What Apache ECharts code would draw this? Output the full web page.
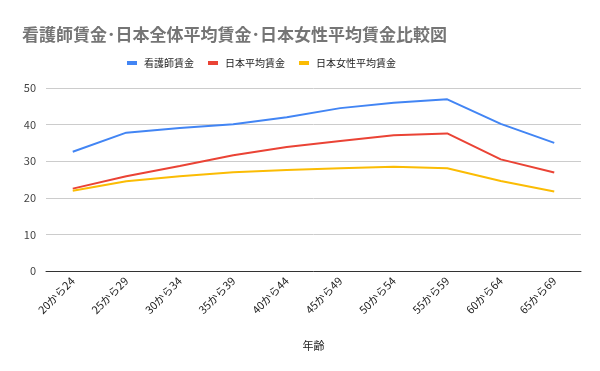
<!DOCTYPE html>
<html><head><meta charset="utf-8">
<script src="https://cdn.jsdelivr.net/npm/echarts@6/dist/echarts.min.js"></script>
<style>html,body{margin:0;padding:0;background:#fff}#c{width:600px;height:371px}</style>
</head><body><div id="c"></div>
<script>
const categories = ["20から24","25から29","30から34","35から39","40から44","45から49","50から54","55から59","60から64","65から69"];
const nurse = [32.6, 37.8, 39.1, 40.1, 42.0, 44.5, 46.0, 46.9, 40.2, 35.0];
const national = [22.5, 25.9, 28.7, 31.6, 33.9, 35.5, 37.1, 37.6, 30.5, 26.9];
const women = [21.9, 24.5, 25.9, 27.0, 27.6, 28.1, 28.5, 28.1, 24.6, 21.7];
const seriesNames = ["看護師賃金","日本平均賃金","日本女性平均賃金"];
const font = '"Noto Sans CJK JP", Roboto, sans-serif';
const chart = echarts.init(document.getElementById('c'));
chart.setOption({
  animation:false,
  title:{text:'看護師賃金･日本全体平均賃金･日本女性平均賃金比較図',left:17,top:21,
    textStyle:{fontSize:17,fontWeight:'bold',color:'#757575',fontFamily:font}},
  legend:{top:53,left:122,itemWidth:10,itemHeight:4,itemGap:14,icon:'rect',
    textStyle:{fontSize:10,color:'#222',fontFamily:font,padding:[0,0,0,2]},data:seriesNames},
  grid:{left:46,right:19,top:88,bottom:100},
  xAxis:{type:'category',data:categories,boundaryGap:true,
    name:'年齢',nameLocation:'middle',nameGap:69,
    nameTextStyle:{fontSize:11,color:'#222',fontFamily:font},
    axisLine:{lineStyle:{color:'#333'}},axisTick:{show:false},
    axisLabel:{rotate:45,fontSize:11,color:'#222',fontFamily:font,margin:8}},
  yAxis:{type:'value',min:0,max:50,interval:10,
    axisLine:{show:false},axisTick:{show:false},
    axisLabel:{fontSize:11,color:'#444',fontFamily:font,margin:10},
    splitLine:{lineStyle:{color:'#ccc'}}},
  series:[
    {name:seriesNames[0],type:'line',data:nurse,symbol:'none',lineStyle:{width:2,color:'#4285f4'},itemStyle:{color:'#4285f4'}},
    {name:seriesNames[1],type:'line',data:national,symbol:'none',lineStyle:{width:2,color:'#ea4335'},itemStyle:{color:'#ea4335'}},
    {name:seriesNames[2],type:'line',data:women,symbol:'none',lineStyle:{width:2,color:'#fbbc04'},itemStyle:{color:'#fbbc04'}}
  ]
});
</script></body></html>
